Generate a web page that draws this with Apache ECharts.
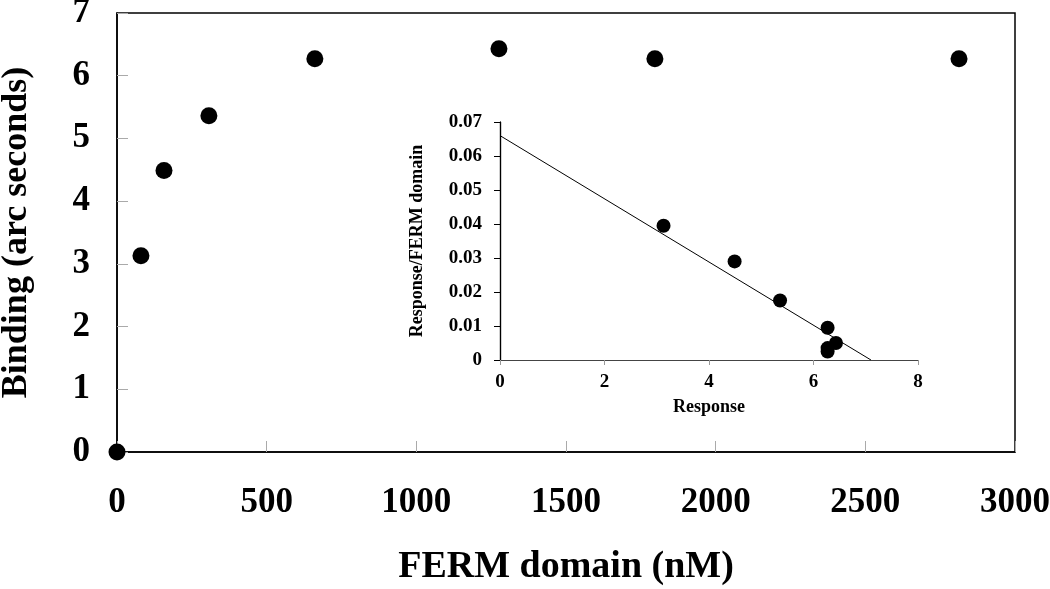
<!DOCTYPE html>
<html>
<head>
<meta charset="utf-8">
<script src="https://cdn.jsdelivr.net/npm/echarts@6/dist/echarts.min.js"></script>
<style>
html,body{margin:0;padding:0;background:#fff;}
#chart{width:1050px;height:589px;}
</style>
</head>
<body>
<div id="chart"></div>
<script>
// Main plot data
const fermConc = [0, 80, 157, 307, 661, 1276, 1797, 2813];
const binding = [0, 3.13, 4.49, 5.36, 6.27, 6.43, 6.27, 6.27];
// Inset (Scatchard) data
const insetResponse = [3.13, 4.49, 5.36, 6.27, 6.43, 6.27, 6.27];
const insetRatio = [0.0395, 0.029, 0.0175, 0.0095, 0.005, 0.0035, 0.0025];
// Regression line endpoints
const fitX = [0, 7.1];
const fitY = [0.066, 0];

const FONT = 'Liberation Serif';
const mainPts = fermConc.map((x, i) => [x, binding[i]]);
const insetPts = insetResponse.map((x, i) => [x, insetRatio[i]]);
const fitPts = fitX.map((x, i) => [x, fitY[i]]);

const chart = echarts.init(document.getElementById('chart'));
chart.setOption({
  backgroundColor: '#fff',
  animation: false,
  grid: [
    {left: 117, right: 35, top: 13, bottom: 137, containLabel: false, outerBoundsMode: 'none',
     show: true, borderColor: '#000', borderWidth: 1.5, backgroundColor: 'transparent'},
    {left: 500, right: 132, top: 122, bottom: 229, containLabel: false, outerBoundsMode: 'none', show: false}
  ],
  xAxis: [
    {
      gridIndex: 0, type: 'value', min: 0, max: 3000, interval: 500,
      name: 'FERM domain (nM)', nameLocation: 'middle', nameGap: 96,
      nameTextStyle: {fontFamily: FONT, fontWeight: 'bold', fontSize: 38, color: '#000'},
      axisLine: {show: true, lineStyle: {color: '#000', width: 1.5}},
      axisTick: {show: true, inside: true, length: 11, lineStyle: {color: '#aaa', width: 1}},
      axisLabel: {fontFamily: FONT, fontWeight: 'bold', fontSize: 35, color: '#000', margin: 33,
        formatter: v => String(v)},
      splitLine: {show: false}
    },
    {
      gridIndex: 1, type: 'value', min: 0, max: 8, interval: 2,
      name: 'Response', nameLocation: 'middle', nameGap: 38,
      nameTextStyle: {fontFamily: FONT, fontWeight: 'bold', fontSize: 18, color: '#000'},
      axisLine: {show: true, lineStyle: {color: '#999', width: 1.2}},
      axisTick: {show: true, inside: false, length: 5, lineStyle: {color: '#999', width: 1}},
      axisLabel: {fontFamily: FONT, fontWeight: 'bold', fontSize: 19, color: '#000', margin: 13},
      splitLine: {show: false}
    },
    {
      gridIndex: 1, type: 'value', position: 'top', min: 0, max: 8,
      axisLine: {show: true, lineStyle: {color: '#444', width: 1.2}},
      axisTick: {show: false}, axisLabel: {show: false}, splitLine: {show: false}
    }
  ],
  yAxis: [
    {
      gridIndex: 0, type: 'value', min: 0, max: 7, interval: 1,
      name: 'Binding (arc seconds)', nameLocation: 'middle', nameGap: 82,
      nameTextStyle: {fontFamily: FONT, fontWeight: 'bold', fontSize: 36, color: '#000'},
      axisLine: {show: true, lineStyle: {color: '#000', width: 1.5}},
      axisTick: {show: true, inside: true, length: 11, lineStyle: {color: '#aaa', width: 1}},
      axisLabel: {fontFamily: FONT, fontWeight: 'bold', fontSize: 35, color: '#000', margin: 27},
      splitLine: {show: false}
    },
    {
      gridIndex: 1, type: 'value', min: 0, max: 0.07, interval: 0.01,
      name: 'Response/FERM domain', nameLocation: 'middle', nameGap: 74,
      nameTextStyle: {fontFamily: FONT, fontWeight: 'bold', fontSize: 18, color: '#000'},
      axisLine: {show: true, lineStyle: {color: '#000', width: 1.2}},
      axisTick: {show: true, inside: false, length: 6, lineStyle: {color: '#000', width: 1}},
      axisLabel: {fontFamily: FONT, fontWeight: 'bold', fontSize: 19, color: '#000', margin: 18,
        formatter: v => v === 0 ? '0' : v.toFixed(2)},
      splitLine: {show: false}
    },
    {
      gridIndex: 1, type: 'value', position: 'right', min: 0, max: 0.07,
      axisLine: {show: true, lineStyle: {color: '#000', width: 1.2}},
      axisTick: {show: false}, axisLabel: {show: false}, splitLine: {show: false}
    }
  ],
  series: [
    {
      type: 'scatter', xAxisIndex: 0, yAxisIndex: 0, data: mainPts,
      symbol: 'circle', symbolSize: 17, itemStyle: {color: '#000', opacity: 1}, z: 5
    },
    {
      type: 'line', xAxisIndex: 1, yAxisIndex: 1, data: fitPts,
      showSymbol: false, symbol: 'none', lineStyle: {color: '#000', width: 1}, z: 3
    },
    {
      type: 'scatter', xAxisIndex: 1, yAxisIndex: 1, data: insetPts,
      symbol: 'circle', symbolSize: 14, itemStyle: {color: '#000', opacity: 1}, z: 5
    }
  ]
});
</script>
</body>
</html>
